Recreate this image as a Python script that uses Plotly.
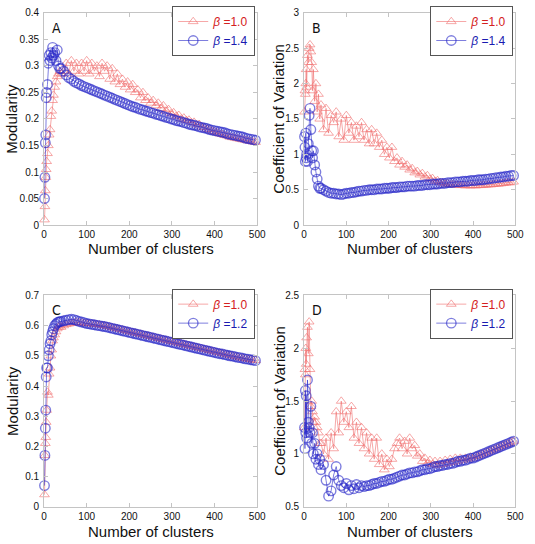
import plotly.graph_objects as go

# ---------------- data ----------------
X_EARLY = [1, 2, 3, 4, 5, 6, 8, 10, 12, 14, 16, 18, 20, 22, 25, 28, 31, 34, 37]
X_LATE = list(range(40, 497, 6))
X = X_EARLY + X_LATE

# Panel A : Modularity, beta=1.0 (red) and beta=1.4 (blue)
modA_b10 = [0.01, 0.035, 0.065, 0.09, 0.105, 0.12, 0.135, 0.15, 0.17, 0.18, 0.205, 0.215, 0.235, 0.245, 0.26, 0.27, 0.28, 0.285, 0.29,
            0.285, 0.29, 0.305, 0.285, 0.31, 0.29, 0.305, 0.285, 0.305, 0.29,
            0.31, 0.285, 0.305, 0.29, 0.3, 0.28, 0.305, 0.29, 0.3, 0.275,
            0.295, 0.27, 0.285, 0.265, 0.275, 0.26, 0.27, 0.255, 0.265, 0.25,
            0.255, 0.24, 0.25, 0.235, 0.24, 0.23, 0.235, 0.225, 0.23, 0.22,
            0.225, 0.215, 0.218, 0.21, 0.212, 0.205, 0.207, 0.2, 0.202, 0.197,
            0.198, 0.193, 0.194, 0.189, 0.19, 0.185, 0.184, 0.181, 0.18, 0.177,
            0.176, 0.174, 0.172, 0.171, 0.169, 0.168, 0.166, 0.165, 0.164, 0.163,
            0.162, 0.161, 0.16, 0.159, 0.158, 0.157, 0.156]
modA_b14 = [0.05, 0.09, 0.155, 0.17, 0.24, 0.25, 0.265, 0.305, 0.32, 0.31, 0.325, 0.315, 0.335, 0.32, 0.325, 0.31, 0.33, 0.3, 0.295,
            0.295, 0.29, 0.283, 0.278, 0.275, 0.271, 0.268, 0.266, 0.263, 0.261,
            0.259, 0.257, 0.255, 0.253, 0.251, 0.249, 0.247, 0.245, 0.243, 0.241,
            0.239, 0.237, 0.235, 0.233, 0.231, 0.229, 0.227, 0.225, 0.223, 0.222,
            0.22, 0.218, 0.217, 0.215, 0.214, 0.212, 0.211, 0.209, 0.208, 0.206,
            0.205, 0.203, 0.202, 0.2, 0.199, 0.197, 0.196, 0.195, 0.193, 0.192,
            0.19, 0.189, 0.188, 0.187, 0.185, 0.184, 0.183, 0.182, 0.18, 0.179,
            0.178, 0.177, 0.176, 0.175, 0.174, 0.172, 0.171, 0.17, 0.169, 0.168,
            0.167, 0.166, 0.164, 0.163, 0.162, 0.161, 0.16]

# Panel B : Coefficient of variation, beta=1.0 / 1.4
cvB_b10 = [1.6, 1.9, 1.85, 2.0, 2.2, 1.95, 2.4, 2.3, 2.5, 2.55, 2.45, 2.3, 1.9, 2.2, 1.75, 2.0, 1.6, 1.85, 1.5,
           1.7, 1.35, 1.65, 1.3, 1.55, 1.45, 1.6, 1.25, 1.5, 1.2,
           1.55, 1.3, 1.45, 1.2, 1.4, 1.25, 1.45, 1.2, 1.35, 1.15,
           1.35, 1.15, 1.3, 1.1, 1.2, 1.0, 1.1, 0.95, 1.1, 0.9,
           0.95, 0.85, 0.9, 0.82, 0.85, 0.78, 0.8, 0.74, 0.76, 0.71,
           0.73, 0.68, 0.7, 0.65, 0.66, 0.62, 0.63, 0.6, 0.6, 0.58,
           0.585, 0.57, 0.575, 0.565, 0.57, 0.56, 0.565, 0.555, 0.56, 0.555,
           0.56, 0.555, 0.56, 0.56, 0.565, 0.565, 0.57, 0.57, 0.575, 0.58,
           0.58, 0.585, 0.59, 0.595, 0.6, 0.6, 0.61]
cvB_b14 = [1.25, 1.1, 0.9, 1.3, 0.95, 1.0, 0.9, 1.15, 1.55, 1.65, 1.35, 1.05, 0.95, 1.05, 0.85, 0.75, 0.65, 0.55, 0.52,
           0.52, 0.5, 0.48, 0.46, 0.45, 0.45, 0.44, 0.44, 0.43, 0.44,
           0.45, 0.45, 0.46, 0.46, 0.47, 0.48, 0.48, 0.49, 0.49, 0.5,
           0.5, 0.5, 0.51, 0.51, 0.51, 0.52, 0.52, 0.52, 0.53, 0.53,
           0.53, 0.54, 0.54, 0.54, 0.55, 0.55, 0.55, 0.55, 0.56, 0.56,
           0.56, 0.57, 0.57, 0.57, 0.58, 0.58, 0.58, 0.59, 0.59, 0.59,
           0.6, 0.6, 0.6, 0.61, 0.61, 0.61, 0.62, 0.62, 0.62, 0.63,
           0.63, 0.63, 0.64, 0.64, 0.64, 0.65, 0.65, 0.66, 0.66, 0.67,
           0.67, 0.68, 0.68, 0.69, 0.69, 0.7, 0.7]

# Panel C : Modularity, beta=1.0 / 1.2
modC_b10 = [0.04, 0.17, 0.21, 0.23, 0.28, 0.32, 0.38, 0.37, 0.44, 0.46, 0.5, 0.52, 0.55, 0.56, 0.57, 0.58, 0.59, 0.595, 0.6,
            0.595, 0.6, 0.604, 0.606, 0.608, 0.61, 0.611, 0.61, 0.609, 0.608,
            0.607, 0.607, 0.606, 0.605, 0.604, 0.603, 0.601, 0.6, 0.598, 0.596,
            0.594, 0.592, 0.59, 0.588, 0.586, 0.584, 0.582, 0.58, 0.578, 0.576,
            0.574, 0.572, 0.57, 0.568, 0.566, 0.564, 0.562, 0.56, 0.558, 0.556,
            0.554, 0.552, 0.55, 0.548, 0.546, 0.544, 0.542, 0.54, 0.538, 0.536,
            0.534, 0.532, 0.53, 0.528, 0.526, 0.524, 0.522, 0.52, 0.518, 0.516,
            0.514, 0.512, 0.51, 0.508, 0.506, 0.504, 0.502, 0.5, 0.498, 0.496,
            0.494, 0.492, 0.491, 0.489, 0.488, 0.486, 0.485]
modC_b12 = [0.07, 0.17, 0.26, 0.32, 0.43, 0.46, 0.46, 0.5, 0.52, 0.54, 0.55, 0.57, 0.58, 0.59, 0.6, 0.605, 0.61, 0.612, 0.613,
            0.614, 0.616, 0.618, 0.62, 0.621, 0.62, 0.617, 0.614, 0.612, 0.61,
            0.607, 0.606, 0.604, 0.603, 0.601, 0.6, 0.598, 0.597, 0.595, 0.593,
            0.591, 0.589, 0.587, 0.585, 0.583, 0.581, 0.579, 0.577, 0.575, 0.573,
            0.571, 0.569, 0.567, 0.565, 0.563, 0.561, 0.559, 0.557, 0.555, 0.553,
            0.551, 0.549, 0.547, 0.545, 0.543, 0.541, 0.539, 0.537, 0.535, 0.533,
            0.531, 0.529, 0.527, 0.525, 0.523, 0.521, 0.519, 0.517, 0.515, 0.513,
            0.511, 0.509, 0.507, 0.506, 0.504, 0.502, 0.5, 0.499, 0.497, 0.495,
            0.494, 0.492, 0.49, 0.489, 0.487, 0.486, 0.484]

# Panel D : Coefficient of variation, beta=1.0 / 1.2
cvD_b10 = [1.25, 1.8, 1.75, 2.0, 1.85, 2.1, 2.2, 1.95, 2.25, 1.8, 1.45, 1.5, 1.4, 1.3, 1.35, 1.3, 1.25, 1.2, 1.1,
           1.1, 1.0, 1.15, 0.95, 1.2, 1.05, 1.4, 1.2, 1.5, 1.3,
           1.4, 1.25, 1.45, 1.15, 1.3, 1.1, 1.25, 1.05, 1.2, 1.0,
           1.15, 0.95, 1.15, 0.9, 1.0, 0.85, 0.95, 0.88, 0.95, 1.05,
           1.1, 1.15, 1.05, 1.12, 1.0, 1.15, 1.05, 1.08, 0.98, 1.0,
           0.93, 0.96, 0.91, 0.94, 0.9, 0.93, 0.89, 0.93, 0.9, 0.94,
           0.91, 0.95, 0.92, 0.96, 0.93, 0.96, 0.94, 0.96, 0.95, 0.97,
           0.96, 0.98, 0.98, 0.99, 1.0, 1.01, 1.02, 1.03, 1.04, 1.05,
           1.06, 1.07, 1.08, 1.09, 1.1, 1.11, 1.12]
cvD_b12 = [1.25, 1.05, 1.6, 1.2, 1.55, 1.15, 1.7, 1.3, 1.25, 1.2, 1.45, 1.1, 1.2, 1.0, 1.1, 0.95, 1.0, 0.9, 0.95,
           0.85, 0.9, 0.75, 0.6, 0.65, 0.8, 0.88, 0.75, 0.7, 0.68,
           0.72, 0.66, 0.7, 0.67, 0.71, 0.68, 0.7, 0.69, 0.7, 0.7,
           0.71, 0.72, 0.72, 0.73, 0.74, 0.74, 0.75, 0.76, 0.76, 0.77,
           0.78, 0.79, 0.8, 0.8, 0.81, 0.82, 0.82, 0.83, 0.83, 0.84,
           0.85, 0.85, 0.86, 0.86, 0.87, 0.88, 0.88, 0.89, 0.89, 0.9,
           0.9, 0.91, 0.91, 0.92, 0.93, 0.93, 0.94, 0.94, 0.95, 0.96,
           0.96, 0.97, 0.98, 0.99, 1.0, 1.01, 1.02, 1.03, 1.04, 1.05,
           1.06, 1.07, 1.08, 1.09, 1.1, 1.11, 1.12]

PANEL_LABELS = ["A", "B", "C", "D"]
Y_TITLES = ["Modularity", "Coefficient of Variation", "Modularity", "Coefficient of Variation"]
X_TITLE = "Number of clusters"
BLUE_BETAS = ["1.4", "1.4", "1.2", "1.2"]
Y_RANGES = [(0, 0.4, 0.05), (0, 3, 0.5), (0, 0.7, 0.1), (0.5, 2.5, 0.5)]
SERIES = [(modA_b10, modA_b14), (cvB_b10, cvB_b14), (modC_b10, modC_b12), (cvD_b10, cvD_b12)]

# ---------------- layout geometry ----------------
W, H = 535, 544
XD = [[42 / W, 260 / W], [308 / W, 524 / W]]
YD = [[1 - 224 / H, 1 - 7 / H], [1 - 512 / H, 1 - 296 / H]]

RED = "rgba(240,110,110,0.6)"
BLUE = "rgba(40,40,200,0.6)"
RED_TXT = "#d42020"
BLUE_TXT = "#1a1ab0"
FONT = "Liberation Sans, Arial, sans-serif"

fig = go.Figure()
layout = dict(width=W, height=H, margin=dict(l=0, r=0, t=0, b=0),
              paper_bgcolor="white", plot_bgcolor="white", showlegend=True,
              font=dict(family=FONT, color="#111"))
annotations = []

for i in range(4):
    col, row = i % 2, i // 2
    n = "" if i == 0 else str(i + 1)
    xa, ya = "x" + n, "y" + n
    leg = "legend" + n
    r_vals, b_vals = SERIES[i]
    fig.add_trace(go.Scatter(
        x=X, y=r_vals, xaxis=xa, yaxis=ya, mode="lines+markers", legend=leg,
        name=f'<span style="color:{RED_TXT}"><i>β</i> =1.0</span>',
        line=dict(color=RED, width=1), cliponaxis=False,
        marker=dict(symbol="triangle-up-open", size=8.5, color=RED, line=dict(width=1, color=RED))))
    fig.add_trace(go.Scatter(
        x=X, y=b_vals, xaxis=xa, yaxis=ya, mode="lines+markers", legend=leg,
        name=f'<span style="color:{BLUE_TXT}"><i>β</i> =' + BLUE_BETAS[i] + '</span>',
        line=dict(color=BLUE, width=1), cliponaxis=False,
        marker=dict(symbol="circle-open", size=9.5, color=BLUE, line=dict(width=1.4, color=BLUE))))

    y0, y1, dy = Y_RANGES[i]
    axis_common = dict(showline=True, linecolor="#c4c4c4", linewidth=1, mirror="ticks",
                       ticks="inside", ticklen=4, tickcolor="#c4c4c4", showgrid=False,
                       zeroline=False, tickfont=dict(size=10, color="#111", family=FONT))
    layout["xaxis" + n] = dict(domain=XD[col], range=[0, 500], dtick=100, tick0=0,
                               anchor=ya, **axis_common)
    layout["yaxis" + n] = dict(domain=YD[row], range=[y0, y1], dtick=dy, tick0=y0,
                               anchor=xa, ticklabelstandoff=2, **axis_common)

    x_right = XD[col][1]
    layout[leg] = dict(x=x_right - 2 / W, y=YD[row][1] + 7 / H, xanchor="right", yanchor="top",
                       bgcolor="white", bordercolor="#555", borderwidth=1,
                       font=dict(size=12, family=FONT), tracegroupgap=0,
                       itemwidth=30)

    # panel label
    annotations.append(dict(text=PANEL_LABELS[i], xref="paper", yref="paper",
                            x=XD[col][0] + 13 / W, y=YD[row][1] - 15 / H,
                            xanchor="center", yanchor="middle",
                            showarrow=False, font=dict(size=14, family="Liberation Sans Narrow, DejaVu Sans Condensed, Arial Narrow, sans-serif", color="#111")))
    # y title
    annotations.append(dict(text=Y_TITLES[i], xref="paper", yref="paper", textangle=-90,
                            x=(9 if col == 0 else 282) / W, y=sum(YD[row]) / 2,
                            xanchor="center", yanchor="middle",
                            showarrow=False, font=dict(size=15, family=FONT, color="#111")))
    # x title
    annotations.append(dict(text=X_TITLE, xref="paper", yref="paper",
                            x=sum(XD[col]) / 2, y=1 - (248 if row == 0 else 537) / H,
                            xanchor="center", yanchor="middle",
                            showarrow=False, font=dict(size=15, family=FONT, color="#111")))

layout["annotations"] = annotations
fig.update_layout(**layout)
fig.write_html("out.html", config={"displayModeBar": False},
               post_script="document.body.style.margin='0';document.body.style.overflow='hidden';")
